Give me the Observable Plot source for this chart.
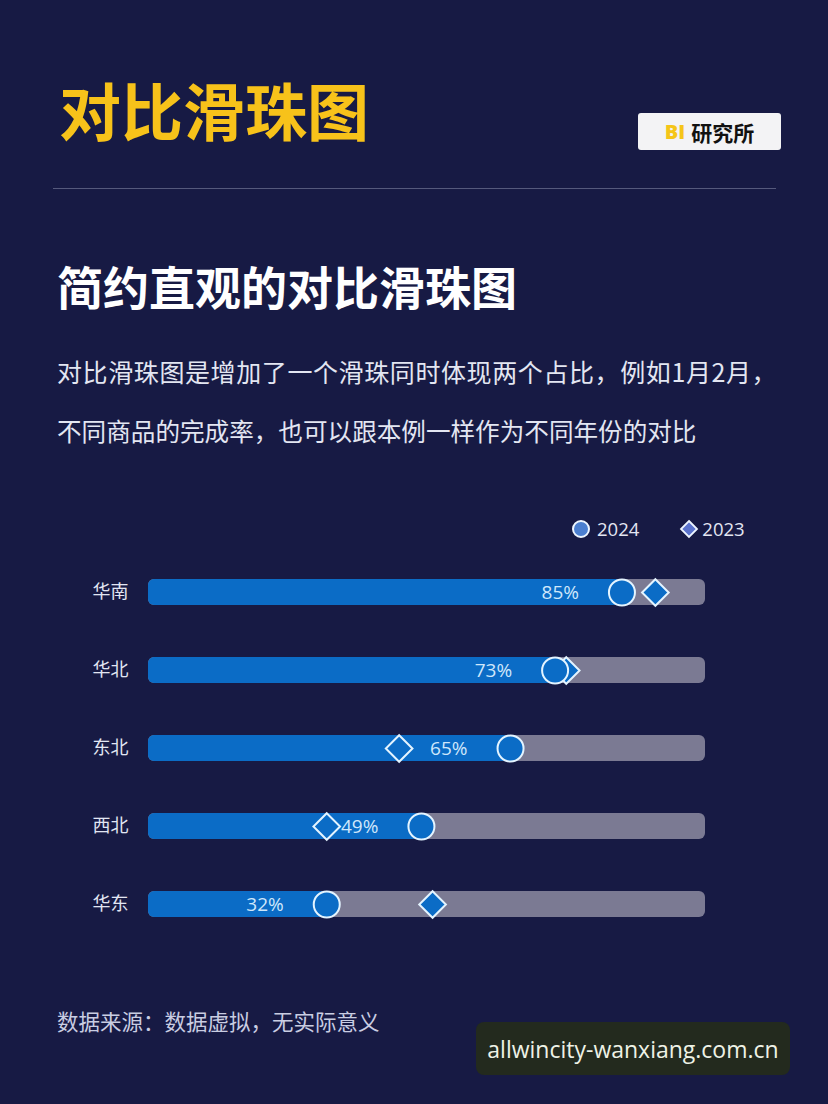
<!DOCTYPE html>
<html><head><meta charset="utf-8">
<script src="https://cdn.jsdelivr.net/npm/d3@7"></script>
<script src="https://cdn.jsdelivr.net/npm/@observablehq/plot@0.6"></script>
<style>
html,body{margin:0;padding:0;}
body{width:828px;height:1104px;background:#171a44;position:relative;overflow:hidden;font-family:"Noto Sans CJK SC","Noto Sans",sans-serif;}
.abs{position:absolute;white-space:nowrap;}
#title{left:59px;top:78px;font-size:62px;line-height:1;font-weight:700;color:#f7c21a;}
#badge{left:638px;top:113px;width:143px;height:37px;background:#f3f3f5;border-radius:3px;display:flex;align-items:center;justify-content:center;font-size:21px;font-weight:700;color:#111;}
#badge b{color:#f5c518;margin-right:6px;font-family:"Open Sans",sans-serif;font-size:20px;}
#hr{left:53px;top:188px;width:723px;height:1px;background:#55597c;}
#sub{left:57px;top:262px;font-size:46px;line-height:1;font-weight:700;color:#ffffff;}
.para{left:57px;line-height:1;color:#e3e6f2;}
#legend{left:570px;top:516px;font-size:18.5px;color:#e3e6f2;font-family:"Open Sans",sans-serif;display:flex;align-items:center;}
#foot{left:57px;top:1010px;font-size:21.5px;line-height:1;color:#c9cde2;}
#wm{left:476px;top:1022px;width:314px;height:53px;background:#232a1e;border-radius:8px;display:flex;align-items:center;justify-content:center;font-family:"Open Sans",sans-serif;font-size:23px;color:#eef2e6;}
#chart{position:absolute;left:0;top:540px;}
</style></head>
<body>
<div id="title" class="abs">对比滑珠图</div>
<div id="badge" class="abs"><b>BI</b>研究所</div>
<div id="hr" class="abs"></div>
<div id="sub" class="abs">简约直观的对比滑珠图</div>
<div class="abs para" style="top:359px;font-size:25px;letter-spacing:0.6px">对比滑珠图是增加了一个滑珠同时体现两个占比，例如1月2月，</div>
<div class="abs para" style="top:418px;font-size:24.6px">不同商品的完成率，也可以跟本例一样作为不同年份的对比</div>
<div id="legend" class="abs"></div>
<div id="chart"></div>
<div id="foot" class="abs">数据来源：数据虚拟，无实际意义</div>
<div id="wm" class="abs">allwincity-wanxiang.com.cn</div>
<script>
const regions = ["华南","华北","东北","西北","华东"];
const v2024 = [0.85,0.73,0.65,0.49,0.32];
const v2023 = [0.91,0.75,0.45,0.32,0.51];
const seriesNames = ["2024","2023"];

const data = regions.map((r,i)=>({region:r, v2024:v2024[i], v2023:v2023[i]}));
const blue = "#0b6cc6", stroke = "#e4f4ff";

const chart = Plot.plot({
  width: 828, height: 415,
  marginTop: 12, marginBottom: 12, marginLeft: 148, marginRight: 123,
  x: {domain: [0,1], axis: null},
  y: {domain: regions, padding: 0, label: null},
  style: {background: "transparent", color: "#e2e6f3", fontFamily: "'Open Sans','Noto Sans CJK SC',sans-serif", overflow: "visible"},
  marks: [
    Plot.axisY({tickSize: 0, tickPadding: 20, fontSize: 18, label: null, fill: "#e2e6f3", fontFamily: "'Noto Sans CJK SC',sans-serif"}),
    Plot.barX(data, {x1: 0, x2: 1, y: "region", fill: "#7b7a93", insetTop: 26, insetBottom: 26, rx: 6}),
    Plot.barX(data, {x1: 0, x2: "v2024", y: "region", fill: blue, insetTop: 26, insetBottom: 26, rx: 6}),
    Plot.text(data, {x: "v2024", y: "region", text: d => Math.round(d.v2024*100) + "%", dx: -43, textAnchor: "end", fill: "#cfe7fb", fontSize: 19}),
    Plot.dot(data, {x: "v2023", y: "region", symbol: "diamond2", r: 12, fill: blue, stroke, strokeWidth: 2}),
    Plot.dot(data, {x: "v2024", y: "region", r: 13, fill: blue, stroke, strokeWidth: 2})
  ]
});
document.getElementById("chart").appendChild(chart);

const lg = document.getElementById("legend");
lg.innerHTML =
  `<svg width="22" height="22" style="margin-right:5px"><circle cx="11" cy="11" r="8" fill="#4b7fd0" stroke="#eef6ff" stroke-width="2"/></svg><span>${seriesNames[0]}</span>` +
  `<svg width="24" height="22" style="margin-left:38px;margin-right:1px"><path d="M12 3 L20 11 L12 19 L4 11 Z" fill="#5a72cc" stroke="#eef6ff" stroke-width="1.8"/></svg><span>${seriesNames[1]}</span>`;
</script>
</body></html>
